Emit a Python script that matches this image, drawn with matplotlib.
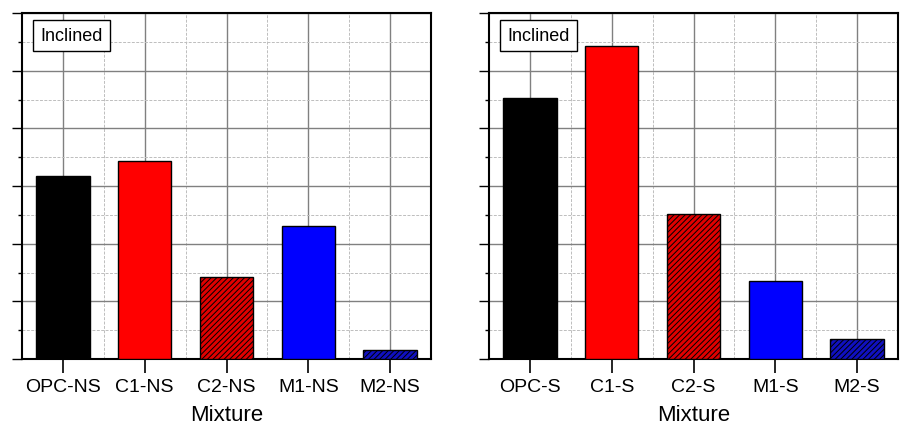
import matplotlib
matplotlib.use("Agg")
import matplotlib.pyplot as plt
from matplotlib.ticker import MultipleLocator, FixedLocator

plt.rcParams['font.family'] = ['Liberation Sans', 'DejaVu Sans']
plt.rcParams['hatch.linewidth'] = 0.7

# values (arbitrary units, no y labels shown)
labels_ns = ["OPC-NS", "C1-NS", "C2-NS", "M1-NS", "M2-NS"]
values_ns = [3.17, 3.44, 1.43, 2.30, 0.16]
labels_s = ["OPC-S", "C1-S", "C2-S", "M1-S", "M2-S"]
values_s = [4.53, 5.42, 2.51, 1.36, 0.35]

colors = ["black", "#ff0000", "#e00000", "#0000ff", "#1010c0"]
hatches = [None, None, "//////", None, "//////"]

fig = plt.figure(figsize=(9.13, 4.27), dpi=100)
ax1 = fig.add_axes([22/913, 67/427, 409/913, 346/427])
ax2 = fig.add_axes([489/913, 67/427, 409/913, 346/427])


def draw_panel(ax, labels, values):
    x = list(range(len(labels)))
    bars = ax.bar(x, values, width=0.655, color=colors, edgecolor="black",
                  linewidth=1.0, zorder=3)
    for b, h in zip(bars, hatches):
        if h:
            b.set_hatch(h)
    ax.set_xlim(-0.5, 4.5)
    ax.set_ylim(0, 6)
    ax.set_xticks(x)
    ax.set_xticklabels(labels, fontsize=14)
    ax.xaxis.set_minor_locator(FixedLocator([0.5, 1.5, 2.5, 3.5]))
    ax.yaxis.set_major_locator(MultipleLocator(1))
    ax.yaxis.set_minor_locator(MultipleLocator(0.5))
    ax.set_yticklabels([])
    ax.tick_params(axis="x", which="major", direction="out", length=10,
                   width=1.2, pad=4)
    ax.tick_params(axis="x", which="minor", length=0)
    ax.tick_params(axis="y", which="major", direction="out", length=7, width=1)
    ax.tick_params(axis="y", which="minor", direction="out", length=3, width=1)
    ax.grid(which="major", color="#808080", linewidth=1.0, zorder=0)
    ax.grid(which="minor", color="#bdbdbd", linewidth=0.7,
            linestyle=(0, (3, 1.5)), zorder=0)
    ax.set_axisbelow(True)
    for sp in ax.spines.values():
        sp.set_linewidth(1.5)
    ax.set_xlabel("Mixture", fontsize=16, labelpad=6)
    ax.text(0.045, 0.935, "Inclined", transform=ax.transAxes, fontsize=13,
            ha="left", va="center", zorder=5,
            bbox=dict(boxstyle="square,pad=0.4", facecolor="white",
                      edgecolor="black", linewidth=1.0))


draw_panel(ax1, labels_ns, values_ns)
draw_panel(ax2, labels_s, values_s)

fig.savefig("out.png", dpi=100)
